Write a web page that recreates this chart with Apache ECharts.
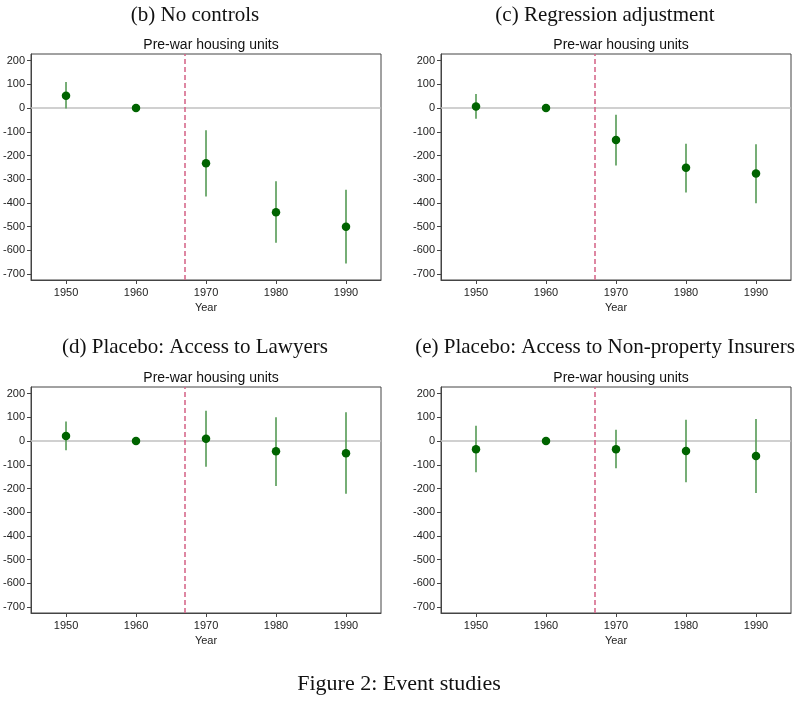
<!DOCTYPE html>
<html>
<head>
<meta charset="utf-8">
<script src="https://cdn.jsdelivr.net/npm/echarts@6/dist/echarts.min.js"></script>
<style>
html,body{margin:0;padding:0;background:#fff;}
#chart{width:808px;height:703px;}
</style>
</head>
<body>
<div id="chart"></div>
<script>
var years = [1950, 1960, 1970, 1980, 1990];
var yTicks = [200, 100, 0, -100, -200, -300, -400, -500, -600, -700];
var treatmentYear = 1967;

var panelTitles = ['(b) No controls', '(c) Regression adjustment', '(d) Placebo: Access to Lawyers', '(e) Placebo: Access to Non-property Insurers'];
var subTitle = 'Pre-war housing units';
var captionText = 'Figure 2: Event studies';

var noControlsCoef = [52, 0, -233, -439, -500];
var noControlsLo   = [-2, null, -373, -568, -655];
var noControlsHi   = [110, null, -94, -309, -344];

var regAdjCoef = [7, 0, -135, -252, -276];
var regAdjLo   = [-45, null, -242, -356, -401];
var regAdjHi   = [59, null, -28, -150, -153];

var lawyersCoef = [21, 0, 10, -43, -51];
var lawyersLo   = [-39, null, -108, -189, -222];
var lawyersHi   = [83, null, 128, 100, 121];

var insurersCoef = [-34, 0, -34, -42, -63];
var insurersLo   = [-132, null, -115, -174, -219];
var insurersHi   = [65, null, 48, 90, 93];

var panels = [
  {coef: noControlsCoef, lo: noControlsLo, hi: noControlsHi},
  {coef: regAdjCoef, lo: regAdjLo, hi: regAdjHi},
  {coef: lawyersCoef, lo: lawyersLo, hi: lawyersHi},
  {coef: insurersCoef, lo: insurersLo, hi: insurersHi}
];

var gridPos = [
  {left: 31, top: 54},
  {left: 441, top: 54},
  {left: 31, top: 387},
  {left: 441, top: 387}
];
var gridW = 350, gridH = 226;
var titleCenters = [190, 600, 190, 600];
var titleTops = [0, 0, 332, 332];

var chart = echarts.init(document.getElementById('chart'), null, {renderer: 'canvas'});

var grids = [], xAxes = [], yAxes = [], series = [], titles = [];
panels.forEach(function (p, i) {
  var g = gridPos[i];
  grids.push({left: g.left, top: g.top, width: gridW, height: gridH, show: true,
    borderColor: '#444', borderWidth: 1, backgroundColor: '#fff', containLabel: false});
  xAxes.push({
    type: 'value', gridIndex: i, min: 1945, max: 1995,
    name: 'Year', nameLocation: 'middle', nameGap: 22,
    nameTextStyle: {fontFamily: 'Liberation Sans', fontSize: 11, color: '#222'},
    axisLine: {show: true, onZero: false, lineStyle: {color: '#444', width: 1}},
    axisTick: {show: true, length: 4, lineStyle: {color: '#444'}, customValues: years},
    axisLabel: {fontFamily: 'Liberation Sans', fontSize: 11, color: '#222', margin: 7, customValues: years,
      formatter: function (v) { return String(v); }},
    splitLine: {show: false}
  });
  yAxes.push({
    type: 'value', gridIndex: i, min: -725, max: 228,
    axisLine: {show: true, onZero: false, lineStyle: {color: '#444', width: 1}},
    axisTick: {show: true, length: 4, lineStyle: {color: '#444'}, customValues: yTicks},
    axisLabel: {fontFamily: 'Liberation Sans', fontSize: 11, color: '#222', margin: 6, customValues: yTicks,
      formatter: function (v) { return String(v); }},
    splitLine: {show: false}
  });
  var ciData = years.map(function (y, k) { return [y, p.lo[k], p.hi[k]]; })
    .filter(function (d) { return d[1] !== null; });
  series.push({
    type: 'scatter', xAxisIndex: i, yAxisIndex: i, z: 1, data: [], silent: true,
    markLine: {
      z: 1, silent: true, symbol: 'none', label: {show: false}, animation: false,
      data: [
        {yAxis: 0, lineStyle: {color: '#c0c0c0', width: 1.5, type: 'solid'}},
        {xAxis: treatmentYear, lineStyle: {color: '#d66a8c', width: 1.6, type: [5, 3]}}
      ]
    }
  });
  series.push({
    type: 'custom', xAxisIndex: i, yAxisIndex: i, data: ciData, z: 3,
    renderItem: function (params, api) {
      var a = api.coord([api.value(0), api.value(1)]);
      var b = api.coord([api.value(0), api.value(2)]);
      return {type: 'line', shape: {x1: a[0], y1: a[1], x2: b[0], y2: b[1]},
        style: {stroke: '#5fa05f', lineWidth: 1.7}};
    }
  });
  series.push({
    type: 'scatter', xAxisIndex: i, yAxisIndex: i, z: 6,
    data: years.map(function (y, k) { return [y, p.coef[k]]; }),
    symbol: 'circle', symbolSize: 8.5,
    itemStyle: {color: '#006400', opacity: 1}
  });
  titles.push({text: panelTitles[i], left: titleCenters[i], textAlign: 'center', top: titleTops[i],
    textStyle: {fontFamily: 'Liberation Serif', fontSize: 21, fontWeight: 'normal', color: '#111'}});
  titles.push({text: subTitle, left: g.left + gridW / 2, textAlign: 'center', top: g.top - 21,
    textStyle: {fontFamily: 'Liberation Sans', fontSize: 14, fontWeight: 'normal', color: '#111'}});
});
titles.push({text: captionText, left: 394, textAlign: 'center', top: 668,
  textStyle: {fontFamily: 'Liberation Serif', fontSize: 22, fontWeight: 'normal', color: '#111'}});

chart.setOption({
  animation: false,
  backgroundColor: '#fff',
  title: titles,
  grid: grids,
  xAxis: xAxes,
  yAxis: yAxes,
  series: series
});
</script>
</body>
</html>
